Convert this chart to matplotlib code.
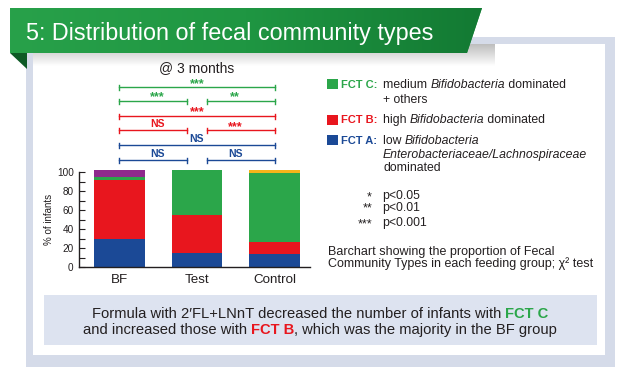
import matplotlib
matplotlib.use("Agg")
import matplotlib.pyplot as plt
import matplotlib.transforms as mtransforms
from matplotlib.patches import Polygon, Rectangle
from matplotlib.colors import LinearSegmentedColormap
import numpy as np

## data (% of infants per fecal community type)
groups = ["BF", "Test", "Control"]
fct_a = [30, 15, 14]
fct_b = [62, 40, 13]
fct_c = [3, 47, 72]
fct_other = [7, 0, 3]
yticks = [0, 20, 40, 60, 80, 100]

# chi-square comparisons: (left group, right group, label)
sig_c = [(0, 2, "***"), (0, 1, "***"), (1, 2, "**")]
sig_b = [(0, 2, "***"), (0, 1, "NS"), (1, 2, "***")]
sig_a = [(0, 2, "NS"), (0, 1, "NS"), (1, 2, "NS")]

plt.rcParams["font.family"] = ["Liberation Sans", "DejaVu Sans"]

BLUE = "#1b4996"
RED = "#e8161e"
GREEN = "#2ba64a"
PURPLE = "#8e2a8c"
YELLOW = "#f4b41a"
TXT = "#231f20"

fig = plt.figure(figsize=(6.34, 3.87), dpi=100)
fig.patch.set_facecolor("white")

# background layer in pixel units
bg = fig.add_axes([0, 0, 1, 1], zorder=0)
bg.set_xlim(0, 634)
bg.set_ylim(387, 0)
bg.axis("off")

bg.add_patch(Rectangle((26, 37), 589, 330, facecolor="#d5dbe9", edgecolor="none"))
bg.add_patch(Rectangle((33, 44), 572, 311, facecolor="white", edgecolor="none"))

# shadow under the banner
shade = np.linspace(0, 1, 64).reshape(-1, 1)
bg.imshow(shade, cmap=LinearSegmentedColormap.from_list("s", ["#bdbdbd", "#ffffff"]),
          extent=(33, 495, 66, 44), aspect="auto", zorder=1)

banner = Polygon([(10, 8), (482, 8), (467, 53), (10, 53)], closed=True,
                 facecolor="#1f9640", edgecolor="none", zorder=2)
bg.add_patch(banner)
grad = np.linspace(0, 1, 256).reshape(1, -1)
im = bg.imshow(grad, cmap=LinearSegmentedColormap.from_list("g", ["#28a14a", "#1f9642", "#137a33"]),
               extent=(10, 482, 53, 8), aspect="auto", zorder=3)
im.set_clip_path(banner)
bg.add_patch(Polygon([(10, 53), (27, 53), (27, 69)], closed=True,
                     facecolor="#0e5a26", edgecolor="none", zorder=2))
bg.set_xlim(0, 634)
bg.set_ylim(387, 0)

bg.text(26, 40, "5: Distribution of fecal community types", color="white",
        fontsize=16.8, va="baseline", ha="left", zorder=4)

# conclusion box
bg.add_patch(Rectangle((44, 295), 553, 50, facecolor="#dde3f0", edgecolor="none", zorder=1))

renderer = fig.canvas.get_renderer()


def run_width(s, **kw):
    t1 = bg.text(0, 0, s + "|", **kw)
    t2 = bg.text(0, 0, "|", **kw)
    w = t1.get_window_extent(renderer).width - t2.get_window_extent(renderer).width
    t1.remove()
    t2.remove()
    return w


def runs(x, y, parts, ha="left", size=8.8):
    widths = [run_width(s, fontsize=size, **st) for s, st in parts]
    if ha == "center":
        x = x - sum(widths) / 2
    for (s, st), w in zip(parts, widths):
        kw = dict(color=TXT)
        kw.update(st)
        bg.text(x, y, s, fontsize=size, va="baseline", ha="left", zorder=5, **kw)
        x += w


bold_green = dict(color=GREEN, fontweight="bold")
bold_red = dict(color=RED, fontweight="bold")
ital = dict(fontstyle="italic")

runs(320, 318, [("Formula with 2\u2032FL+LNnT decreased the number of infants with ", {}),
                ("FCT C", bold_green)], ha="center", size=10.6)
runs(320, 334, [("and increased those with ", {}), ("FCT B", bold_red),
                (", which was the majority in the BF group", {})], ha="center", size=10.6)

# legend
for y0, col in [(79, GREEN), (114.5, RED), (135, BLUE)]:
    bg.add_patch(Rectangle((327, y0), 11, 10, facecolor=col, edgecolor="none", zorder=2))
bg.text(341, 88, "FCT C:", fontsize=8, fontweight="bold", color=GREEN, va="baseline")
bg.text(341, 123, "FCT B:", fontsize=8, fontweight="bold", color=RED, va="baseline")
bg.text(341, 144, "FCT A:", fontsize=8, fontweight="bold", color=BLUE, va="baseline")
runs(383, 88, [("medium ", {}), ("Bifidobacteria", ital), (" dominated", {})])
runs(383, 103, [("+ others", {})])
runs(383, 123, [("high ", {}), ("Bifidobacteria", ital), (" dominated", {})])
runs(383, 144, [("low ", {}), ("Bifidobacteria", ital)])
runs(383, 158, [("Enterobacteriaceae/Lachnospiraceae", ital)])
runs(383, 171, [("dominated", {})])

for yb, stars, p in [(199, "*", "p<0.05"), (210.5, "**", "p<0.01"), (226, "***", "p<0.001")]:
    bg.text(372, yb + 1, stars, fontsize=9, ha="right", va="baseline", color=TXT)
    bg.text(382, yb, p, fontsize=8.8, ha="left", va="baseline", color=TXT)

runs(328, 255.5, [("Barchart showing the proportion of Fecal", {})], size=9)
runs(328, 267, [("Community Types in each feeding group; \u03c7\u00b2 test", {})], size=9)

# bar chart
ax = fig.add_axes([79.3 / 634, 119.7 / 387, 230.7 / 634, 95.1 / 387], zorder=2)
ax.patch.set_alpha(0)
x = np.arange(len(groups))
w = 0.654
b1 = np.array(fct_a)
b2 = b1 + np.array(fct_b)
b3 = b2 + np.array(fct_c)
ax.bar(x, fct_a, w, color=BLUE, clip_on=False)
ax.bar(x, fct_b, w, bottom=b1, color=RED, clip_on=False)
ax.bar(x, fct_c, w, bottom=b2, color=GREEN, clip_on=False)
ax.bar(x, fct_other, w, bottom=b3, color=[PURPLE, PURPLE, YELLOW], clip_on=False)
ax.set_xlim(-0.51, 2.45)
ax.set_ylim(0, 100)
ax.set_xticks(x)
ax.set_xticklabels(groups, fontsize=9.6, color=TXT)
ax.set_yticks(yticks)
ax.set_yticks(np.arange(10, 100, 20), minor=True)
ax.tick_params(axis="y", which="both", direction="in", length=4, width=0.8,
               labelsize=7.2, pad=4, colors=TXT)
ax.tick_params(axis="x", length=0, pad=5)
for s in ["top", "right"]:
    ax.spines[s].set_visible(False)
for s in ["left", "bottom"]:
    ax.spines[s].set_color(TXT)
    ax.spines[s].set_linewidth(1)
ax.set_ylabel("% of infants", fontsize=7, color=TXT, labelpad=2)

# significance brackets: x from the bar axis, y in pixels
tr = mtransforms.blended_transform_factory(ax.transData, bg.transData)
gap = 0.13
lab_x = {(0, 2): 1, (0, 1): 0.49, (1, 2): 1.49}


def brackets(sig, y_full, y_pair, col):
    for g0, g1, lab in sig:
        y = y_full if (g0, g1) == (0, 2) else y_pair
        x0 = g0 + (gap if g0 == 1 else 0)
        x1 = g1 - (gap if g1 == 1 else 0)
        ax.plot([x0, x1], [y, y], color=col, lw=1, transform=tr, clip_on=False)
        for xe in (x0, x1):
            ax.plot([xe, xe], [y - 2.5, y + 2.5], color=col, lw=1, transform=tr, clip_on=False)
        if lab == "NS":
            ax.text(lab_x[(g0, g1)], y - 3, lab, color=col, fontsize=7.5, fontweight="bold",
                    ha="center", va="baseline", transform=tr)
        else:
            ax.text(lab_x[(g0, g1)], y - 0.5, lab, color=col, fontsize=9, fontweight="bold",
                    ha="center", va="baseline", transform=tr)


brackets(sig_c, 87.3, 101, GREEN)
brackets(sig_b, 116, 130.3, RED)
brackets(sig_a, 145, 160.3, BLUE)

ax.text(1, 72, "@ 3 months", fontsize=10, color=TXT, ha="center", va="baseline", transform=tr)

fig.savefig("out.png", dpi=100)
